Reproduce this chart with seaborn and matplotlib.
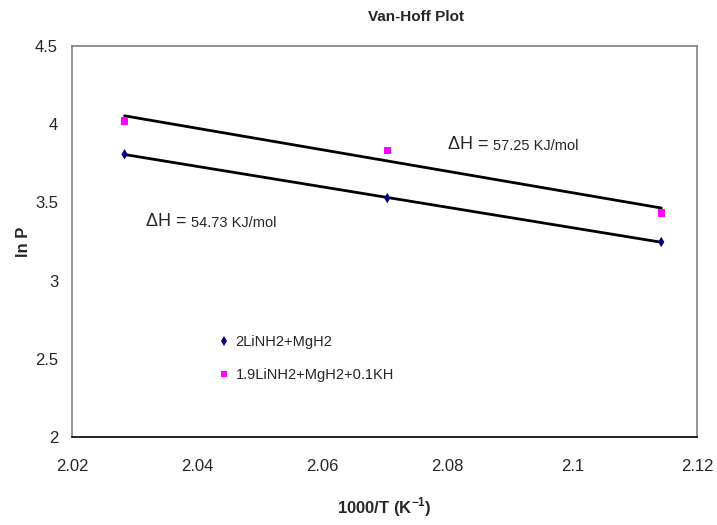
import numpy as np
import pandas as pd
import seaborn as sns
import matplotlib.pyplot as plt
from matplotlib import font_manager

# data
inv_T = [2.0284, 2.0704, 2.1142]               # 1000/T (K^-1)
lnP_base = [3.808, 3.528, 3.247]               # 2LiNH2+MgH2
lnP_kh = [4.020, 3.831, 3.432]                 # 1.9LiNH2+MgH2+0.1KH
series_names = ['2LiNH2+MgH2', '1.9LiNH2+MgH2+0.1KH']
dH_labels = ['54.73 KJ/mol', '57.25 KJ/mol']

df = pd.DataFrame({
    'x': inv_T * 2,
    'y': lnP_base + lnP_kh,
    'sample': [series_names[0]] * 3 + [series_names[1]] * 3,
})

sns.set_style("white")
names = {f.name for f in font_manager.fontManager.ttflist}
fam = 'Liberation Sans Narrow' if 'Liberation Sans Narrow' in names else 'Liberation Sans'
plt.rcParams['font.family'] = [fam, 'DejaVu Sans']

fig = plt.figure(figsize=(7.17, 5.25), dpi=100)
ax = fig.add_axes([0.1004, 0.1676, 0.8724, 0.7448])

# trendlines
for vals in (lnP_base, lnP_kh):
    sns.regplot(x=inv_T, y=vals, scatter=False, ci=None, truncate=True,
                color='black', line_kws={'lw': 2}, ax=ax)

sns.scatterplot(data=df, x='x', y='y', hue='sample', style='sample',
                palette=['#000080', '#ff00ff'], markers=['d', 's'],
                s=28, linewidth=0, zorder=5, ax=ax)

ax.set_xlim(2.02, 2.12)
ax.set_ylim(2, 4.5)
ax.set_xticks([2.02, 2.04, 2.06, 2.08, 2.1, 2.12])
ax.set_xticklabels(['2.02', '2.04', '2.06', '2.08', '2.1', '2.12'])
ax.set_yticks([2, 2.5, 3, 3.5, 4, 4.5])
ax.set_yticklabels(['2', '2.5', '3', '3.5', '4', '4.5'])
ax.tick_params(axis='both', direction='out', length=5, width=1, color='#808080',
               labelsize=12)
ax.tick_params(axis='x', pad=11)
ax.tick_params(axis='y', pad=5)
for side in ['top', 'right', 'left']:
    ax.spines[side].set_color('#808080')
ax.spines['bottom'].set_color('black')
for sp in ax.spines.values():
    sp.set_linewidth(1.2)

ax.set_xlabel('1000/T (K$^{\\mathregular{-1}}$)', fontsize=12, fontweight='bold', labelpad=15)
ax.set_ylabel('ln P', fontsize=12, fontweight='bold', labelpad=3)
fig.text(0.58, 0.968, 'Van-Hoff Plot', ha='center', va='center',
         fontsize=11, fontweight='bold')

# ΔH annotations
for (tx, ty), lab in zip([(2.0318, 3.349), (2.0801, 3.844)], dH_labels):
    t1 = ax.text(tx, ty, '\u0394H = ', fontsize=13, va='baseline')
    ax.annotate(lab, xy=(1, 0), xycoords=t1, va='bottom', ha='left',
                fontsize=10.5)

ax.legend(loc='upper left', bbox_to_anchor=(0.215, 0.295), frameon=False,
          handlelength=0.6, handletextpad=0.5, labelspacing=1.3,
          fontsize=10.5, markerscale=0.9, title=None)

fig.savefig('out.png', dpi=100)
